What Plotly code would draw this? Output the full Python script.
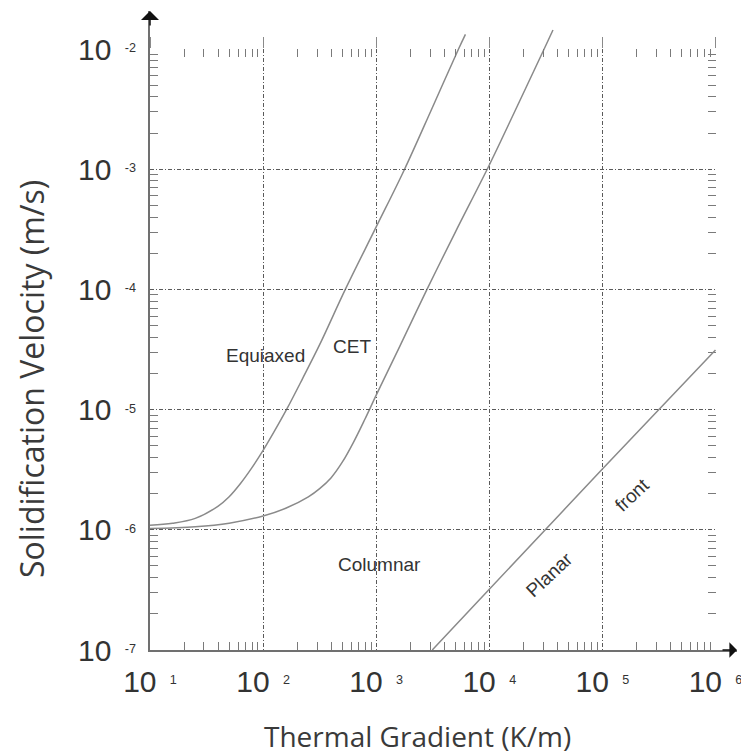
import math
import plotly.graph_objects as go

# ---------------- data ----------------
equiaxed_G = [10, 15.85, 25.12, 39.81, 50.12, 63.10, 79.43, 100, 125.9, 162.2,
              223.9, 316.2, 533.3, 1000, 1782, 3162, 5346, 6152]
equiaxed_V = [1.091e-6, 1.135e-6, 1.245e-6, 1.567e-6, 1.884e-6, 2.427e-6, 3.273e-6,
              4.571e-6, 6.607e-6, 1.012e-5, 1.820e-5, 3.467e-5, 1.0e-4, 3.311e-4,
              1.0e-3, 3.311e-3, 1.0e-2, 1.324e-2]
cet_G = [10, 25.12, 50.12, 100, 158.5, 251.2, 316.2, 398.1, 501.2, 631.0, 794.3,
         1000, 1585, 2812, 5012, 10000, 17780, 30550, 36560]
cet_V = [1.023e-6, 1.059e-6, 1.135e-6, 1.303e-6, 1.510e-6, 1.880e-6, 2.200e-6,
         2.700e-6, 3.650e-6, 5.370e-6, 8.318e-6, 1.318e-5, 3.236e-5, 1.0e-4,
         3.0e-4, 1.084e-3, 3.388e-3, 1.0e-2, 1.439e-2]
planar_G = [3130, 1e4, 1e5, 1e6]
planar_V = [1e-7, 3.2e-7, 3.2e-6, 3.13e-5]

x_tickvals = [1e1, 1e2, 1e3, 1e4, 1e5, 1e6]
x_exponents = ["1", "2", "3", "4", "5", "6"]
y_tickvals = [1e-7, 1e-6, 1e-5, 1e-4, 1e-3, 1e-2]
y_exponents = ["-7", "-6", "-5", "-4", "-3", "-2"]

region_labels = ["Equiaxed", "CET", "Columnar", "Planar", "front"]
region_G = [104, 612, 1080, 34200, 185000]
region_V = [2.84e-5, 3.38e-5, 5.19e-7, 4.21e-7, 1.95e-6]
region_angle = [0, 0, 0, -43, -43]

x_title = "Thermal Gradient (K/m)"
y_title = "Solidification Velocity (m/s)"

# ---------------- layout geometry (reference pixels) ----------------
OFF = 8                              # default page margin of the html body
W, H = 749 - OFF, 755 - OFF
L, R, T, B = 150, 737, 11, 650       # plot area incl. arrow extensions
X0, X1 = 150, 715.5                  # pixel of 10^1 and 10^6
Y0, Y1 = 650, 49                     # pixel of 10^-7 and 10^-2
dec_x = (X1 - X0) / 5
dec_y = (Y0 - Y1) / 5
xdom = [0, (X1 - L) / (R - L)]
ydom = [0, (B - Y1) / (B - T)]
x2range = [1, 1 + (R - L) / dec_x]
y2range = [-7, -7 + (B - T) / dec_y]

def px_to_paper_x(px):
    return (px - L) / (R - L)

def px_to_paper_y(py):
    return (B - py) / (B - T)

def sup_label(exp, big=18):
    return "10 <span style='font-size:%dpx'>&nbsp;<sup>%s</sup></span>" % (big, exp)

x_ticktext = [sup_label(e) for e in x_exponents]
y_ticktext = [sup_label(e) for e in y_exponents]

minor_x = [m * 10 ** k for k in range(1, 6) for m in range(2, 10)]
minor_y = [m * 10.0 ** k for k in range(-7, -2) for m in range(2, 10)]

LINE = "#8a8a8a"
GRID = "#5a5a5a"
TICK = "#7a7a7a"
TXT = "#333333"
TICKFONT = dict(family="Liberation Sans, Arial, sans-serif", size=30, color=TXT)
GRIDDASH = "4px,2px,1px,2px"

fig = go.Figure()
for G, V in [(equiaxed_G, equiaxed_V), (cet_G, cet_V), (planar_G, planar_V)]:
    fig.add_trace(go.Scatter(x=G, y=V, mode="lines", xaxis="x2", yaxis="y2",
                             line=dict(color=LINE, width=1.5, shape="spline", smoothing=1.0),
                             hoverinfo="skip", showlegend=False))
# invisible traces so that the mirror tick axes are drawn
fig.add_trace(go.Scatter(x=[100], y=[1e-4], xaxis="x3", yaxis="y", mode="markers",
                         marker=dict(opacity=0), hoverinfo="skip", showlegend=False))
fig.add_trace(go.Scatter(x=[100], y=[1e-4], xaxis="x", yaxis="y3", mode="markers",
                         marker=dict(opacity=0), hoverinfo="skip", showlegend=False))

minor_common = dict(ticks="inside", ticklen=8, tickwidth=1, tickcolor=TICK, showgrid=False)
hidden = dict(showticklabels=False, showgrid=False, zeroline=False, automargin=False)

fig.update_layout(
    width=W, height=H, autosize=False,
    margin=dict(l=L - OFF, r=W - (R - OFF), t=T - OFF, b=H - (B - OFF), pad=0),
    paper_bgcolor="white", plot_bgcolor="rgba(0,0,0,0)",
    showlegend=False,
    xaxis=dict(type="log", range=[1, 6], domain=xdom, anchor="y", automargin=False,
               tickmode="array", tickvals=x_tickvals, ticktext=x_ticktext,
               ticks="", tickfont=TICKFONT, ticklabelstandoff=11,
               showgrid=True, gridcolor=GRID, gridwidth=1, griddash=GRIDDASH,
               showline=False, zeroline=False,
               minor=dict(tickmode="array", tickvals=minor_x, **minor_common)),
    yaxis=dict(type="log", range=[-7, -2], domain=ydom, anchor="x", automargin=False,
               tickmode="array", tickvals=y_tickvals, ticktext=y_ticktext,
               ticks="", tickfont=TICKFONT, ticklabelstandoff=13,
               showgrid=True, gridcolor=GRID, gridwidth=1, griddash=GRIDDASH,
               showline=False, zeroline=False,
               minor=dict(tickmode="array", tickvals=minor_y, **minor_common)),
    xaxis3=dict(type="log", range=[1, 6], overlaying="x", side="top", anchor="y",
                showline=False, tickmode="array", tickvals=x_tickvals,
                ticks="outside", ticklen=11, tickwidth=1, tickcolor="#8a8a8a",
                minor=dict(tickmode="array", tickvals=minor_x, **minor_common), **hidden),
    yaxis3=dict(type="log", range=[-7, -2], overlaying="y", side="right", anchor="x",
                showline=False, tickmode="array", tickvals=y_tickvals, ticks="",
                minor=dict(tickmode="array", tickvals=minor_y, **minor_common), **hidden),
    xaxis2=dict(type="log", range=x2range, domain=[0, 1], anchor="y2", ticks="",
                showline=True, linecolor="#707070", linewidth=1.5, **hidden),
    yaxis2=dict(type="log", range=y2range, domain=[0, 1], anchor="x2", ticks="",
                showline=True, linecolor="#707070", linewidth=1.5, **hidden),
)

# axis arrowheads
fig.add_annotation(xref="paper", yref="paper", x=0, y=1, ax=0, ay=16, text="",
                   showarrow=True, arrowhead=1, arrowsize=2, arrowwidth=1.5,
                   arrowcolor="#111111", axref="pixel", ayref="pixel")
fig.add_annotation(xref="paper", yref="paper", x=1, y=0, ax=-16, ay=0, text="",
                   showarrow=True, arrowhead=1, arrowsize=1.7, arrowwidth=1.5,
                   arrowcolor="#111111", axref="pixel", ayref="pixel")

for txt, g, v, ang in zip(region_labels, region_G, region_V, region_angle):
    fig.add_annotation(xref="x", yref="y", x=math.log10(g), y=math.log10(v), text=txt,
                       showarrow=False, textangle=ang,
                       font=dict(family="Liberation Sans, Arial, sans-serif", size=19, color=TXT))

TITLEFONT = dict(family="Open Sans, sans-serif", size=28, color="#3a3a3a")
fig.add_annotation(xref="paper", yref="paper", x=px_to_paper_x(417), y=px_to_paper_y(736),
                   text=x_title, showarrow=False, font=TITLEFONT,
                   xanchor="center", yanchor="middle")
fig.add_annotation(xref="paper", yref="paper", x=px_to_paper_x(31), y=px_to_paper_y(379),
                   text=y_title, showarrow=False, font=dict(TITLEFONT, size=32),
                   textangle=-90, xanchor="center", yanchor="middle")

fig.write_html("out.html")
